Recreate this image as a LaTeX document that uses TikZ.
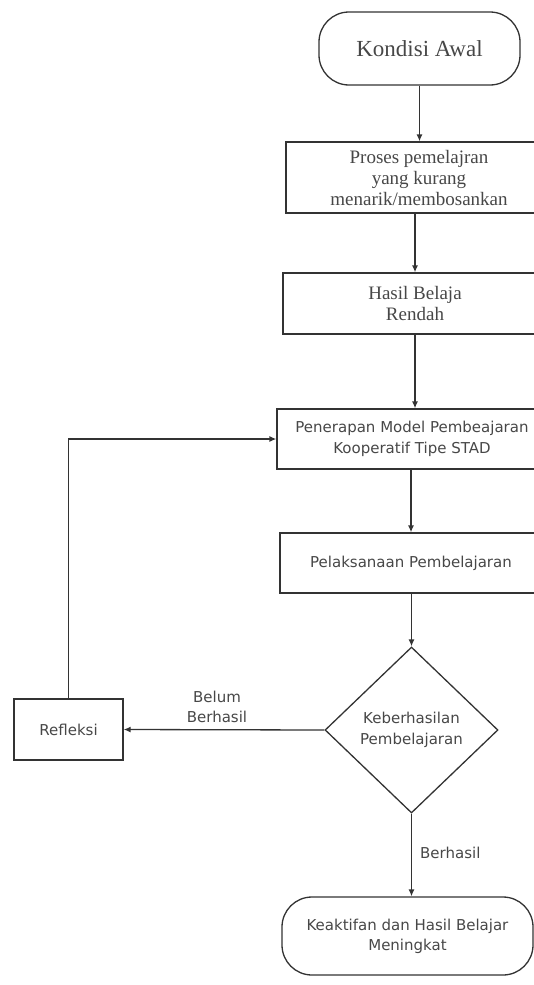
\documentclass[tikz,border=0pt]{standalone}
\usepackage{fontspec}
\setmainfont{Liberation Serif}
\newfontfamily\vsans{DejaVu Sans}
\usetikzlibrary{shapes.geometric,arrows.meta}
\begin{document}
\begin{tikzpicture}[x=1pt,y=-1pt,
 line/.style={draw=black!80, line width=1.3pt},
 arr/.style={line, -{Latex[length=7pt,width=6pt]}},
 box/.style={line, rectangle, inner sep=0pt, align=center, text=black!72},
 term/.style={box, rounded corners=30pt},
 serif/.style={font=\fontsize{19}{21}\selectfont},
 sans/.style={font=\vsans\fontsize{15}{21}\selectfont},
 lbl/.style={inner sep=0pt, align=center, text=black!72, font=\vsans\fontsize{15}{20}\selectfont},
]
\useasboundingbox (0,0) rectangle (534,985);
\clip (0,0) rectangle (534,985);
\node[term, font=\fontsize{23}{25}\selectfont, minimum width=201pt, minimum height=73pt] (start) at (419.5,48.5) {Kondisi Awal};
\node[box, serif, minimum width=266pt, minimum height=71pt] (proses) at (419,177.5) {Proses pemelajran\\yang kurang\\menarik/membosankan};
\node[box, serif, minimum width=264pt, minimum height=61pt] (hasil) at (415,303.5) {Hasil Belaja\\Rendah};
\node[box, sans, minimum width=270pt, minimum height=60pt] (pen) at (412,439) {Penerapan Model Pembeajaran\\Kooperatif Tipe STAD};
\node[box, sans, minimum width=262pt, minimum height=60pt] (pel) at (411,563) {Pelaksanaan Pembelajaran};
\node[line, diamond, aspect=1.04, inner sep=0pt, align=center, text=black!72, sans, minimum width=173pt, minimum height=166pt] (dec) at (411.5,730) {Keberhasilan\\Pembelajaran};
\node[box, sans, minimum width=109pt, minimum height=61pt] (refl) at (68.5,729.5) {Refleksi};
\node[term, sans, font=\vsans\fontsize{15}{20}\selectfont, minimum width=251pt, minimum height=78pt] (end) at (407.5,936) {Keaktifan dan Hasil Belajar\\Meningkat};
\draw[arr] (start.south) -- (start.south |- proses.north);
\draw[arr] (hasil.north |- proses.south) -- (hasil.north);
\draw[arr] (hasil.south) -- (hasil.south |- pen.north);
\draw[arr] (pel.north |- pen.south) -- (pel.north);
\draw[arr] (pel.south) -- (pel.south -| dec.north) -- (dec.north);
\draw[arr] (dec.west) -- (refl.east);
\draw[arr] (refl.north) |- (pen.west);
\draw[arr] (dec.south) -- (dec.south |- end.north);
\node[lbl] (belum) at (217,707) {Belum\\Berhasil};
\node[lbl, anchor=west] (berh) at (420,853) {Berhasil};
\end{tikzpicture}
\end{document}
